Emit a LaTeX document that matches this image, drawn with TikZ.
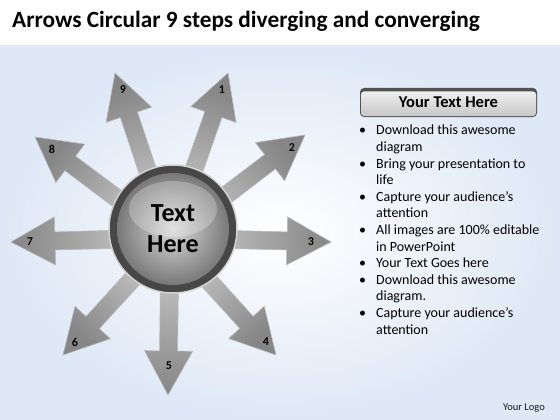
\documentclass[tikz,border=0pt]{standalone}
\usepackage{fontspec}
\setmainfont{Carlito}
\usetikzlibrary{calc}

\definecolor{bgblue}{RGB}{222,232,246}

\tikzset{
  spoke/.style={draw=gray!55, line width=0.6pt},
  steplabel/.style={font=\bfseries\fontsize{12}{12}\selectfont, inner sep=0pt},
  hub/.style={circle, minimum size=128pt, inner sep=0pt, draw=gray!35, line width=1.5pt,
    fill=black!72, align=center,
    font=\bfseries\fontsize{26}{31}\selectfont,
    path picture={
      \shade[inner color=gray!30, outer color=black!58]
        (path picture bounding box.center) circle (56pt);
      \fill[white, opacity=0.25]
        ($(path picture bounding box.center)+(0,20)$) ellipse (44pt and 28pt);
    }},
  headbox/.style={rectangle, rounded corners=4pt, minimum width=177pt, minimum height=29pt,
    fill=gray!65!black, font=\bfseries\fontsize{16.5}{16.5}\selectfont,
    path picture={
      \shade[top color=gray!8, bottom color=gray!45, rounded corners=3pt]
        ($(path picture bounding box.south west)+(1,1)$) rectangle
        ($(path picture bounding box.north east)+(-1,-3.5)$);
    }}
}

\begin{document}
\begin{tikzpicture}[x=1pt,y=1pt]
  \useasboundingbox (0,0) rectangle (560,-420);
  % background
  \fill[white] (0,0) rectangle (560,-420);
  \shade[inner color=white, outer color=bgblue] (0,-46) rectangle (560,-420);
  \node[anchor=base west, inner sep=0pt, font=\bfseries\fontsize{23.3}{23.3}\selectfont] (title)
    at (12,-28) {Arrows Circular 9 steps diverging and converging};

  % nine arrows
  \coordinate (ctr) at (170,-238);
  \foreach \n/\x/\y/\a/\lx/\ly in {1/228/73/70.6/222/90, 2/305/135/37.3/292/148,
      3/331/242/-1.4/311/242, 4/276/355/-47.8/266/342, 5/168/395/-90.7/169/366,
      6/63/355/-132.4/75/342, 7/11/242/181.4/30/242, 8/35/137/143.2/52/149,
      9/115/73/108.4/123/90}{
    \pgfmathsetmacro\sa{\a+90}
    \coordinate (t\n) at (\x,-\y);
    \coordinate (h\n) at ($(t\n)!44pt!(ctr)$);
    \shade[spoke, left color=gray!35, right color=gray!95, shading angle=\sa]
      ($(ctr)!9pt!90:(t\n)$) -- ($(h\n)!9pt!90:(t\n)$) -- ($(h\n)!24pt!90:(t\n)$)
      -- (t\n) -- ($(h\n)!24pt!-90:(t\n)$) -- ($(h\n)!9pt!-90:(t\n)$)
      -- ($(ctr)!9pt!-90:(t\n)$) -- cycle;
    \node[steplabel] (l\n) at (\lx,-\ly) {\n};
  }

  % centre
  \node[hub] (hub) at (173,-229) {Text\\Here};

  % text panel
  \node[headbox] (head) at (448.5,-102.5) {Your Text Here};
  \node[anchor=base west, inner sep=0pt, font=\fontsize{14}{16.6}\selectfont] (list) at (359,-135) {%
    \begin{tabular}[t]{@{}p{17pt}@{}l@{}}
      \textbullet & Download this awesome\\
                  & diagram\\
      \textbullet & Bring your presentation to\\
                  & life\\
      \textbullet & Capture your audience’s\\
                  & attention\\
      \textbullet & All images are 100\% editable\\
                  & in PowerPoint\\
      \textbullet & Your Text Goes here\\
      \textbullet & Download this awesome\\
                  & diagram.\\
      \textbullet & Capture your audience’s\\
                  & attention
    \end{tabular}};
  \node[anchor=base east, inner sep=0pt, text=gray!20!black, font=\fontsize{10.5}{10.5}\selectfont] (logo)
    at (545,-410) {Your Logo};
\end{tikzpicture}
\end{document}
